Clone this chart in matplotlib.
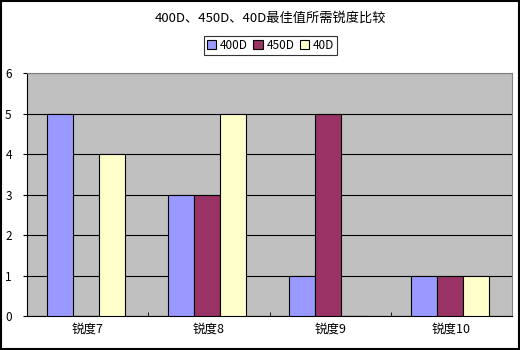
import numpy as np
import matplotlib.pyplot as plt
from matplotlib.patches import Rectangle

plt.rcParams['font.family'] = ['Noto Sans CJK SC', 'DejaVu Sans']

categories = ['锐度7', '锐度8', '锐度9', '锐度10']
series_names = ['400D', '450D', '40D']
v400d = [5, 3, 1, 1]
v450d = [0, 3, 5, 1]
v40d = [4, 5, 0, 1]
colors = ['#9999FF', '#993366', '#FFFFCC']

fig = plt.figure(figsize=(5.2, 3.5), dpi=100)
ax = fig.add_axes([0.052, 0.097, 0.933, 0.694])
ax.set_facecolor('#C0C0C0')

x = np.arange(len(categories))
w = 0.215
for i, (vals, c) in enumerate(zip([v400d, v450d, v40d], colors)):
    ax.bar(x + (i - 1) * w - 0.015, vals, width=w, color=c, edgecolor='black',
           linewidth=0.8, label=series_names[i], zorder=3)

ax.set_xlim(-0.5, len(categories) - 0.5)
ax.set_ylim(0, 6)
ax.set_yticks(range(7))
ax.yaxis.grid(True, color='black', linewidth=0.8, zorder=0)
ax.set_axisbelow(True)
ax.set_xticks(x)
ax.set_xticklabels(categories, fontsize=9)
ax.set_xticks(np.arange(-0.5, len(categories)), minor=True)
ax.tick_params(axis='x', which='major', length=0, pad=5)
ax.tick_params(axis='x', which='minor', length=3, direction='in')
ax.tick_params(axis='y', labelsize=8.5, length=3, pad=8)
for s in ['top', 'right']:
    ax.spines[s].set_color('#808080')
for s in ['left', 'bottom']:
    ax.spines[s].set_color('black')

fig.text(0.52, 0.948, '400D、450D、40D最佳值所需锐度比较', ha='center', va='center', fontsize=9.5)
leg = fig.legend(loc='center', bbox_to_anchor=(0.52, 0.87), ncol=3, fontsize=8.5,
                 frameon=True, fancybox=False, edgecolor='black', handlelength=0.8,
                 handleheight=0.8, handletextpad=0.3, columnspacing=0.5,
                 borderpad=0.25)
leg.get_frame().set_linewidth(0.8)

fig.patches.append(Rectangle((0.002, 0.003), 0.996, 0.994, transform=fig.transFigure,
                             fill=False, edgecolor='black', linewidth=1.5))

fig.savefig('out.png', dpi=100)
